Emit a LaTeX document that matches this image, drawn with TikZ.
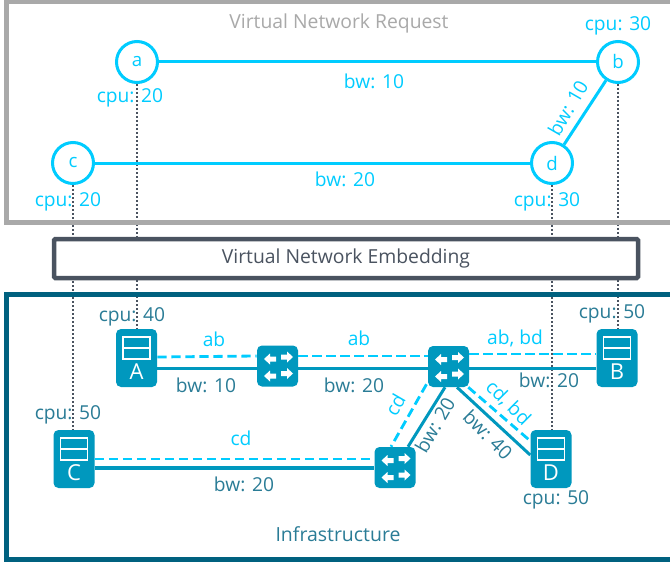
\documentclass[tikz,border=0pt]{standalone}
\usepackage{fontspec}
\setmainfont{Open Sans}
\definecolor{vcy}{HTML}{00CCFF}
\definecolor{vgr}{HTML}{A9A9A9}
\definecolor{emb}{HTML}{4A5360}
\definecolor{inf}{HTML}{00617F}
\definecolor{txt}{HTML}{2A7C96}
\definecolor{dev}{HTML}{0098BE}
\newcommand{\arrowglyph}[3]{% centre x,y, direction
  \fill[white,shift={(#1,#2)},xscale=#3] (6,0)--(0,-5.5)--(0,-2.5)--(-6,-2.5)--(-6,2.5)--(0,2.5)--(0,5.5)--cycle;}
\newcommand{\routerglyph}[1]{%
  \begin{scope}[shift={(#1.center)}]
  \arrowglyph{-7.5}{-7}{-1}\arrowglyph{9.5}{-9}{1}\arrowglyph{-7.5}{10}{-1}\arrowglyph{9.5}{7.5}{1}
  \end{scope}}
\newcommand{\serverglyph}[2]{%
  \draw[white,line width=1.5*0.75pt] ([shift={(-13.5,-21)}]#1.center) rectangle ([shift={(13.5,1)}]#1.center);
  \draw[white,line width=1.5*0.75pt] ([shift={(-13.5,-10)}]#1.center) -- ([shift={(13.5,-10)}]#1.center);
  \node[devletter] (#1l) at ([shift={(0,14)}]#1.center) {#2};}
\begin{document}
\begin{tikzpicture}[x=0.75pt,y=-0.75pt,
  lab/.style={font=\fontsize{14.4}{16}\selectfont,inner sep=0pt},
  vlab/.style={lab,text=vcy},
  ilab/.style={lab,text=txt},
  vnode/.style={circle,draw=vcy,fill=white,line width=3*0.75pt,minimum size=41*0.75pt,inner sep=0pt,text=vcy,font=\fontsize{14}{16}\selectfont},
  vlink/.style={draw=vcy,line width=3*0.75pt},
  server/.style={rounded corners=5*0.75pt,fill=dev,minimum width=41*0.75pt,minimum height=58*0.75pt,inner sep=0pt},
  router/.style={rounded corners=5*0.75pt,fill=dev,minimum width=41*0.75pt,minimum height=41*0.75pt,inner sep=0pt},
  devletter/.style={text=white,inner sep=0pt,font=\fontsize{16.5}{18}\selectfont},
  phys/.style={draw=dev,line width=3*0.75pt},
  alloc/.style={draw=vcy,line width=2.8*0.75pt,dash pattern=on 7pt off 3.5pt},
  map/.style={draw=emb,line width=2*0.75pt,dash pattern=on 1.5pt off 1.5pt},
  frame/.style={line width=5*0.75pt}]
\useasboundingbox (0,0) rectangle (670,563);
\fill[white] (0,0) rectangle (670,563);

% virtual nodes
\node[vnode] (a) at (137,62) {a};
\node[vnode] (b) at (618,62) {b};
\node[vnode] (c) at (73,163) {c};
\node[vnode] (d) at (552,163) {d};

% physical devices
\node[server] (A) at (136.5,358) {};
\node[server] (B) at (617,358) {};
\node[server] (C) at (74,459) {};
\node[server] (D) at (551,459) {};
\node[router] (R1) at (277.5,366) {};
\node[router] (R2) at (448.5,366.5) {};
\node[router] (R3) at (395,467.5) {};

% embedding mapping
\draw[map] (a) -- (a |- A.north);
\draw[map] (b) -- (b |- B.north);
\draw[map] (c) -- (c |- C.north);
\draw[map] (d) -- (d |- D.north);

% frames
\draw[frame,draw=vgr] (680,1.5) -- (6,1.5) -- (6,222) -- (680,222);
\draw[frame,draw=inf] (680,294) -- (6,294) -- (6,559) -- (680,559);
\node[draw=emb,fill=white,line width=4.5*0.75pt,rounded corners=1pt,minimum width=584*0.75pt,minimum height=39*0.75pt,inner sep=0pt,text=emb,font=\fontsize{14.5}{16}\selectfont] (emb) at (346,258.5) {Virtual Network Embedding};

% virtual links
\draw[vlink] (a) -- (b);
\draw[vlink] (c) -- (d);
\draw[vlink] (b) -- (d);

% physical links
\draw[phys] ([shift={(0,10)}]A.east) -- ([shift={(0,2)}]R1.west);
\draw[phys] ([shift={(0,2)}]R1.east) -- ([shift={(0,1.5)}]R2.west);
\draw[phys] ([shift={(0,1.5)}]R2.east) -- ([shift={(0,10)}]B.west);
\draw[phys,line width=4*0.75pt] ([shift={(0,9)}]C.east) -- ([shift={(0,0.5)}]R3.west);
\draw[phys] ([shift={(-3.5,0)}]R2.south) -- ([shift={(13,0)}]R3.north);
\draw[phys] ([shift={(8.5,0)}]R2.south) -- ([shift={(0,-4)}]D.west);

% allocations
\draw[alloc] ([shift={(0,-1)}]A.east) -- ([shift={(0,-10)}]R1.west);
\draw[alloc] ([shift={(0,-10)}]R1.east) -- ([shift={(0,-10.5)}]R2.west);
\draw[alloc] ([shift={(0,-12.5)}]R2.east) -- ([shift={(0,-4)}]B.west);
\draw[alloc] ([shift={(0,0)}]C.east) -- ([shift={(0,-8.5)}]R3.west);
\draw[alloc] ([shift={(-22,-3)}]R2.south) -- ([shift={(-4,0)}]R3.north);
\draw[alloc] ([shift={(-1,0)}]R2.south east) -- ([shift={(-1,-19)}]D.west);

% device glyphs
\serverglyph{A}{A}
\serverglyph{B}{B}
\serverglyph{C}{C}
\serverglyph{D}{D}
\routerglyph{R1}
\routerglyph{R2}
\routerglyph{R3}

% titles
\node[lab,text=vgr,font=\fontsize{14.5}{16}\selectfont] (t1) at (339,23) {Virtual Network Request};
\node[ilab,font=\fontsize{14.6}{16}\selectfont] (t2) at (338,534) {Infrastructure};

% virtual labels
\node[vlab] (l1) at (130,98) {cpu: 20};
\node[vlab] (l2) at (618,26) {cpu: 30};
\node[vlab] (l3) at (68,202) {cpu: 20};
\node[vlab] (l4) at (547,202) {cpu: 30};
\node[vlab] (l5) at (374,81) {bw: 10};
\node[vlab] (l6) at (345,179) {bw: 20};
\node[vlab,rotate=60] (l7) at (568,108) {bw: 10};
\node[vlab] (l8) at (214,339) {ab};
\node[vlab] (l9) at (359,338) {ab};
\node[vlab] (l10) at (515,338) {ab, bd};
\node[vlab] (l11) at (241,438) {cd};
\node[vlab,rotate=60] (l12) at (395,405) {cd};
\node[vlab,rotate=-45] (l13) at (508,403) {cd, bd};

% infrastructure labels
\node[ilab] (l14) at (132,317) {cpu: 40};
\node[ilab] (l15) at (68,415) {cpu: 50};
\node[ilab] (l16) at (612,314) {cpu: 50};
\node[ilab] (l17) at (556,500) {cpu: 50};
\node[ilab] (l18) at (206,385) {bw: 10};
\node[ilab] (l19) at (354,385) {bw: 20};
\node[ilab] (l20) at (549,380) {bw: 20};
\node[ilab] (l21) at (244,484) {bw: 20};
\node[ilab,rotate=60] (l22) at (435,425) {bw: 20};
\node[ilab,rotate=-45] (l23) at (488,435) {bw: 40};
\end{tikzpicture}
\end{document}
